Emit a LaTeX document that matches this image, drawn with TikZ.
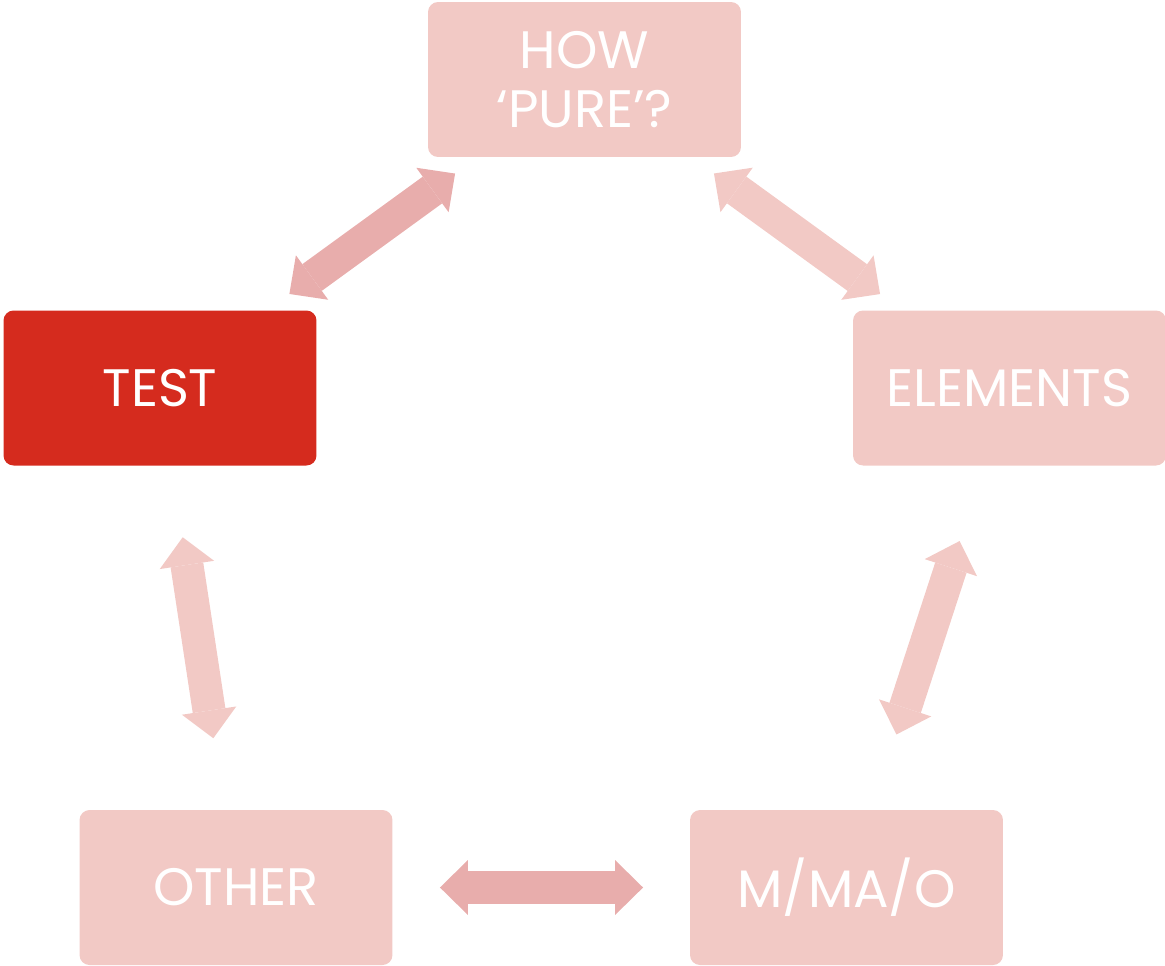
\documentclass[tikz,border=0pt]{standalone}
\usepackage{fontspec}
\setmainfont{Poppins}
\usetikzlibrary{arrows.meta}
\definecolor{boxpink}{RGB}{242,201,197}
\definecolor{testred}{RGB}{213,43,30}
\definecolor{arrowdark}{RGB}{232,173,172}

\begin{document}
\begin{tikzpicture}[x=0.02cm,y=-0.02cm,
		box/.style={fill=boxpink,rounded corners=0.2cm,minimum width=6.26cm,minimum height=3.1cm,
			inner sep=0pt,align=center,text=white,font=\fontsize{30}{34}\selectfont},
		link/.style={line width=0.66cm,>={Triangle[width=1.1cm,length=0.56cm,line width=0pt]},<->}]
		\useasboundingbox (0,0) rectangle (1165,965);
		% boxes
		\node[box] (how) at (584.5,79.5) {HOW\\‘PURE’?};
		\node[box,fill=testred] (test) at (160,388) {TEST};
		\node[box] (elements) at (1009.5,388) {ELEMENTS};
		\node[box] (other) at (236,887.5) {OTHER};
		\node[box] (mmao) at (846.5,887.5) {M/MA/O};
		% arrows
		\draw[link,arrowdark,shorten <=3.2cm,shorten >=3.2cm] (test.center)--(how.center);
		\draw[link,boxpink,shorten <=3.2cm,shorten >=3.2cm] (how.center)--(elements.center);
		\draw[link,boxpink,shorten <=3.22cm,shorten >=3.22cm] (elements.center)--(mmao.center);
		\draw[link,arrowdark,shorten <=4.08cm,shorten >=4.07cm] (other.center)--(mmao.center);
		\draw[link,boxpink,shorten <=3.02cm,shorten >=3.02cm] (test.center)--(other.center);
	\end{tikzpicture}
\end{document}
